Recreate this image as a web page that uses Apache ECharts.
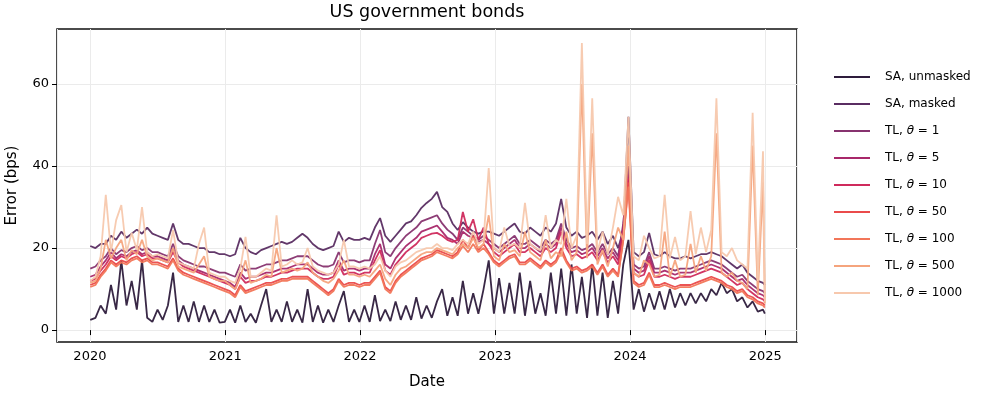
<!DOCTYPE html>
<html>
<head>
<meta charset="utf-8">
<script src="https://cdn.jsdelivr.net/npm/echarts@6/dist/echarts.min.js"></script>
<style>
html, body { margin: 0; padding: 0; background: #fff; }
#main { width: 996px; height: 395px; }
</style>
</head>
<body>
<div id="main"></div>
<script>
// dates: every 14 days from 2020-01-02, plus the last day of 2024
const dates = [];
for (let i = 0; i <= 130; i++) dates.push(new Date(2020, 0, 2 + 14 * i).getTime());
dates.push(new Date(2024, 11, 31).getTime());

const yTicks = [0, 20, 40, 60];

const names = ['SA, unmasked', 'SA, masked', 'TL, θ = 1', 'TL, θ = 5', 'TL, θ = 10',
               'TL, θ = 50', 'TL, θ = 100', 'TL, θ = 500', 'TL, θ = 1000'];
const colors = ['#2e1c3c', '#5a2d62', '#87336f', '#a8286a', '#cf2a5c',
                '#ea4b4b', '#f27659', '#f5a47d', '#f7c8ad'];

// error (bps), one row per year
const saUnmasked = [
  2.5, 3, 6, 4, 11, 5, 17, 6, 12, 5, 17, 3, 2, 5, 2.5, 6, 14, 2, 6, 2, 7, 2, 6, 2, 5, 1.8,
  2, 5, 1.8, 6, 2, 4, 1.8, 6, 10, 2, 5, 2, 7, 2, 5, 1.8, 10, 2, 6, 1.8, 5, 2, 6, 9.5, 2, 5,
  2, 6, 2, 8.5, 2.2, 5, 2.2, 7, 2.5, 6, 2.5, 8, 2.8, 6, 3, 7, 10, 3.5, 8, 3.5, 12, 4, 9, 4, 10, 17,
  4, 12.7, 4, 11.5, 4, 14, 3.5, 12, 4, 9, 3.5, 14, 4, 15, 3.5, 16, 4, 13, 3, 16, 3.5, 14, 3, 12, 4, 16,
  22, 5, 10, 4.5, 9, 5, 9.5, 5, 10, 5.5, 9, 6, 9, 6.5, 9, 7, 10, 8.5, 11.5, 9, 10, 7, 8, 5.5, 7, 4.5, 5, 4
];
const saMasked = [
  20.5, 20, 21, 21, 23, 22, 24, 22.5, 23.5, 24.5, 23.5, 25, 23.5, 23, 22.5, 22, 26, 22, 21, 21, 20.5, 20, 20, 19, 19, 18.5,
  18.5, 18, 18.5, 22.5, 20, 19, 18.5, 19.5, 20, 20.5, 21, 21.5, 21, 21.5, 22.5, 23.5, 22.5, 21, 20, 19.5, 20, 20.5, 24, 21.5, 22.5, 22,
  22, 22.5, 22, 25, 27.3, 23, 21.5, 23, 24.5, 26, 26.5, 28, 29.8, 31, 32, 33.7, 30, 28.8, 26, 24.4, 26.3, 25, 24, 23.5, 24, 24,
  23.5, 23, 24, 25, 26, 24, 23.5, 25, 24, 23, 25, 24, 26, 32, 25, 23, 24, 22.5, 23, 24, 22, 24, 21, 23, 20, 24,
  52, 19, 18, 19, 23.7, 18.5, 18, 19, 18, 17.5, 17.5, 18, 17.5, 18, 18.5, 18.5, 19, 18.5, 18, 17, 16, 15, 16, 14, 13, 12, 11.5, 11
];
const tl1 = [
  15, 15.5, 17, 18, 20, 18.5, 19.5, 19, 20, 20.5, 19.5, 20, 19, 19, 18.5, 18, 21, 18, 17, 16.5, 16, 15.5, 15.5, 15, 14.5, 14,
  14, 13.5, 13, 16, 14.5, 15, 15, 15.5, 16, 16, 16.5, 17, 17, 17.5, 18, 18, 18, 17, 16, 15.5, 15.5, 16, 19, 16.5, 17, 17,
  16.5, 17, 17, 21, 24.4, 19, 18, 20, 21.5, 23, 24, 25, 26.5, 27, 27.5, 28, 26, 24.5, 23.5, 22, 25, 24, 23, 22, 23, 22,
  21, 20, 21, 22, 23, 21, 21, 22, 21, 20, 22, 21, 22, 26, 22, 20, 20.5, 19.5, 20, 21, 19, 21, 18.5, 20, 18, 26,
  40, 16, 15, 15.5, 19, 15, 15, 15.5, 15, 14.5, 15, 15, 15, 15.5, 16, 16.5, 17, 16.5, 16, 15, 14, 13, 13.5, 12, 11, 10, 9.5, 9
];
const tl5 = [
  13, 13.5, 15.5, 17, 19, 17.5, 18.5, 18, 19, 19.5, 18.5, 19, 18, 18, 17.5, 17, 20, 17, 16, 15.5, 15, 14.5, 14, 13.5, 13, 12.5,
  12, 11.5, 10.5, 14, 12.5, 13, 13, 13.5, 14, 14, 14.5, 15, 15, 15.5, 16, 16, 16, 15, 14, 13.5, 13.5, 14, 17, 14.5, 15, 15,
  14.5, 15, 15, 18.5, 21, 16, 15, 17.5, 19, 20.5, 21.5, 22.5, 24, 24.5, 25, 25.5, 24, 22.5, 22, 21, 24, 23, 22.5, 21.5, 22, 21,
  20, 19, 20, 21, 22, 20, 20, 21, 20, 19, 21, 20, 21, 25, 21, 19, 19.5, 18.5, 19, 20, 18, 20, 17.5, 19, 17, 25,
  38, 15, 14, 14.5, 18, 14, 14, 14.5, 14, 13.5, 14, 14, 14, 14.5, 15, 15.5, 16, 15.5, 15, 14, 13, 12, 12.5, 11, 10, 9, 8.5, 8
];
const tl10 = [
  12, 12.5, 14.5, 16, 18, 17, 18, 17.5, 18.5, 19, 18, 18.5, 17.5, 17.5, 17, 16.5, 19, 16.5, 15.5, 15, 14.5, 14, 13.5, 13, 12.5, 12,
  11.5, 11, 10, 13, 11.5, 12, 12, 12.5, 13, 13, 13.5, 14, 14, 14.5, 15, 15, 15, 14, 13, 12.5, 12.5, 13, 16, 13.5, 14, 14,
  13.5, 14, 14, 17, 19.5, 14.5, 13.5, 16, 17.5, 19, 20, 21, 22.5, 23, 23.5, 23.7, 23, 22, 21.5, 22, 28.8, 24, 27, 22, 25, 21,
  19, 18, 19, 20, 21, 19, 19, 20, 19, 18, 20, 19, 20, 24, 20, 18, 18.5, 17.5, 18, 19, 17, 19, 16.5, 18, 16, 24,
  37, 14, 13, 13.5, 17, 13, 13, 13.5, 13, 12.5, 13, 13, 13, 13.5, 14, 14.5, 15, 14.5, 14, 13, 12, 11, 11.5, 10, 9, 8, 7.5, 7
];
const tl50 = [
  11, 11.5, 13.5, 15, 17, 16, 17, 16.5, 17.5, 18, 17, 17.5, 16.5, 16.5, 16, 15.5, 17.5, 15, 14, 13.5, 13, 12.5, 12, 11.5, 11, 10.5,
  10, 9.5, 8.5, 11, 9.5, 10, 10.5, 11, 11.5, 11.5, 12, 12.5, 12.5, 13, 13, 13, 13, 12, 11, 10, 9, 10, 12.5, 11, 11.5, 11.5,
  11, 11.5, 11.5, 13, 14.5, 10.5, 9.5, 12, 13.5, 14.5, 15.5, 16.5, 17.5, 18, 18.5, 19.5, 19, 18.5, 18, 19, 22, 20, 23, 19.5, 21, 19,
  17, 16, 17, 18, 18.5, 16.5, 16.5, 17.5, 16.5, 15.5, 17, 16, 17, 20, 17, 15, 15.5, 14.5, 15, 16, 14, 16, 13.5, 15, 13.5, 22,
  36, 12, 11, 11.5, 14, 11, 11, 11.5, 11, 10.5, 11, 11, 11, 11.5, 12, 12.5, 13, 12.5, 12, 11, 10.5, 9.5, 10, 8.5, 8, 7, 6.5, 6
];
const tl100 = [
  10.5, 11, 13, 14.5, 16.5, 15.5, 16.5, 16, 17, 17.5, 16.5, 17, 16, 16, 15.5, 15, 17, 14.5, 13.5, 13, 12.5, 12, 11.5, 11, 10.5, 10,
  9.5, 9, 8, 10.5, 9, 9.5, 10, 10.5, 11, 11, 11.5, 12, 12, 12.5, 12.5, 12.5, 12.5, 11.5, 10.5, 9.5, 8.5, 9.5, 12, 10.5, 11, 11,
  10.5, 11, 11, 12.5, 14, 10, 9, 11.5, 13, 14, 15, 16, 17, 17.5, 18, 19, 18.5, 18, 17.5, 18.5, 20.5, 19, 21, 19, 20, 18.5,
  16.5, 15.5, 16.5, 17.5, 18, 16, 16, 17, 16, 15, 16.5, 15.5, 16.5, 19, 16.5, 14.5, 15, 14, 14.5, 15.5, 13.5, 15.5, 13, 14.5, 13, 22,
  35, 11.5, 10.5, 11, 13.5, 10.5, 10.5, 11, 10.5, 10, 10.5, 10.5, 10.5, 11, 11.5, 12, 12.5, 12, 11.5, 10.5, 10, 9, 9.5, 8, 7.5, 6.5, 6, 5.5
];
const tl500 = [
  11.5, 12, 15, 22, 17.5, 20, 22, 17, 19.5, 18.5, 22, 18, 17, 17.5, 17, 16.5, 20, 15.5, 15, 14.5, 14, 16, 18, 13, 12.5, 12,
  12, 11, 10, 13, 17, 11.5, 12, 12.5, 13.5, 13, 20, 14, 14.5, 15, 14.5, 15, 16.5, 14, 13, 12, 11.5, 12.5, 14.5, 17, 13.5, 13.5,
  13, 13.5, 13, 14.5, 16, 12.5, 11, 13.5, 15, 15.5, 16.5, 17.5, 18.5, 19, 19, 20, 19.5, 19, 18.5, 20, 21, 20, 22.5, 20, 21, 28,
  18, 17, 21, 19, 19.5, 18, 24, 19, 18, 17, 22, 17.5, 19, 18, 24, 17, 19, 60, 17.5, 48, 16, 19.5, 15.5, 20, 25, 22,
  45, 14, 13, 17, 16, 13, 13.5, 24, 13, 17, 13, 13.5, 21, 14, 18, 14.5, 18, 48, 14, 13, 14, 12, 11.5, 10, 45, 8.5, 36, 6.5
];
const tl1000 = [
  12, 13, 18, 33, 19, 26.8, 30.5, 19, 23.7, 19.5, 30, 19, 18, 18.5, 18, 17.5, 24.4, 16.5, 16, 15.5, 15, 21, 25, 14, 13.5, 13,
  13, 12, 11.5, 15, 22.7, 13, 13, 14, 15, 14.5, 28, 15.5, 16, 17, 16, 16.5, 20, 15.5, 14.5, 14, 13.5, 14, 16, 22, 15.5, 15.5,
  15, 15.5, 15, 16, 18, 14.5, 13, 15.5, 16.5, 17, 18, 19, 19.5, 20, 20, 21, 20, 20, 19.5, 21, 22, 21, 24, 21, 22, 39.5,
  20, 19, 25, 20.5, 21, 20, 31, 21, 20, 19.5, 28, 20, 22, 21, 32, 20, 23, 70, 21, 56.5, 19, 24, 18.5, 25, 32.5, 28,
  52, 18, 17, 23, 20, 17.5, 18, 33, 17.5, 22.7, 17, 18, 29, 18.5, 25, 19, 24.4, 56.5, 19, 18, 20, 17, 16, 15, 53, 12, 43.6, 7
];

const seriesData = [saUnmasked, saMasked, tl1, tl5, tl10, tl50, tl100, tl500, tl1000];
const font = 'DejaVu Sans';

var dom = document.getElementById('main');
var myChart = echarts.init(dom);

var option = {
    animation: false,
    backgroundColor: '#fff',
    graphic: [{
        type: 'text',
        x: 427,
        y: 3,
        style: {
            text: 'US government bonds',
            textAlign: 'center',
            textVerticalAlign: 'top',
            fontSize: 17.5,
            fontFamily: font,
            fill: '#000'
        }
    }],
    grid: {
        left: 57, top: 29, width: 740, height: 313,
        outerBoundsMode: 'none',
        show: true, borderColor: '#111', borderWidth: 1.5, backgroundColor: 'transparent'
    },
    legend: {
        orient: 'vertical',
        left: 829,
        top: 58.5,
        icon: 'rect',
        itemWidth: 36,
        itemHeight: 2,
        itemGap: 0,
        data: names,
        formatter: n => n.replace('θ', '{i|θ}'),
        textStyle: {
            fontSize: 12, fontFamily: font, color: '#000', lineHeight: 27, padding: [0, 0, 0, 10],
            rich: { i: { fontStyle: 'italic', fontSize: 12, fontFamily: font, color: '#000', lineHeight: 27 } }
        }
    },
    xAxis: {
        type: 'time',
        min: new Date(2019, 9, 4).getTime(),
        max: new Date(2025, 2, 28).getTime(),
        minInterval: 365 * 24 * 3600 * 1000,
        name: 'Date',
        nameLocation: 'middle',
        nameGap: 33,
        nameTextStyle: { fontSize: 15, fontFamily: font, color: '#000' },
        axisLine: { show: false },
        axisTick: { show: true, length: 5, lineStyle: { color: '#000' } },
        axisLabel: {
            showMinLabel: false,
            showMaxLabel: false,
            formatter: v => String(new Date(v).getFullYear()),
            fontSize: 13, fontFamily: font, color: '#000', margin: 8
        },
        splitLine: { show: true, lineStyle: { color: '#ebebeb', width: 1 } }
    },
    yAxis: {
        type: 'value',
        min: -2.9,
        max: 73.4,
        name: 'Error (bps)',
        nameLocation: 'middle',
        nameRotate: 90,
        nameGap: 37,
        nameTextStyle: { fontSize: 15, fontFamily: font, color: '#000' },
        axisLine: { show: false },
        axisTick: { show: true, length: 5, customValues: yTicks, lineStyle: { color: '#000' } },
        axisLabel: { customValues: yTicks, fontSize: 13, fontFamily: font, color: '#000', margin: 8 },
        splitLine: { show: true, lineStyle: { color: '#ebebeb', width: 1 } }
    },
    series: seriesData.map(function (arr, index) {
        return {
            name: names[index],
            type: 'line',
            symbol: 'none',
            showSymbol: false,
            data: dates.map((d, i) => [d, arr[i]]),
            lineStyle: { color: colors[index], width: 1.8, opacity: 0.95 },
            itemStyle: { color: colors[index] }
        };
    })
};

myChart.setOption(option);
</script>
</body>
</html>
